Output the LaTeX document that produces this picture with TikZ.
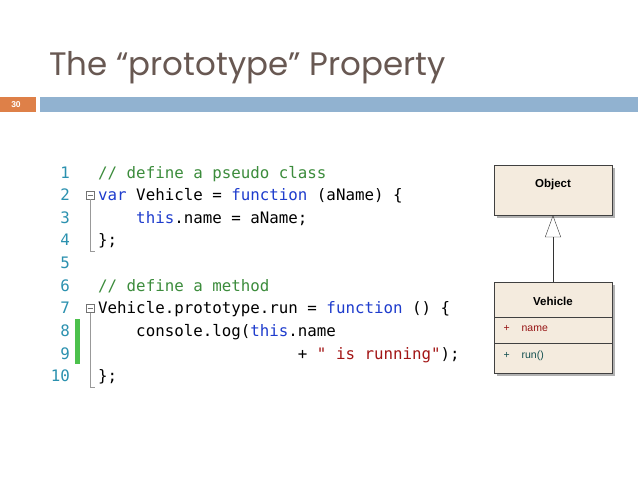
\documentclass[tikz,border=0pt]{standalone}
\usepackage{fontspec}
\setmainfont{Liberation Sans}
\newfontfamily\titlefont{Poppins}
\newfontfamily\codefont{DejaVu Sans Mono}
\usetikzlibrary{positioning,arrows.meta,shadows}
\definecolor{titlegray}{RGB}{104,88,82}
\definecolor{barblue}{RGB}{145,178,208}
\definecolor{pageorange}{RGB}{222,128,72}
\definecolor{cmtgreen}{RGB}{60,140,60}
\definecolor{kwblue}{RGB}{30,60,205}
\definecolor{strred}{RGB}{163,21,21}
\definecolor{numteal}{RGB}{43,145,175}
\definecolor{umlfill}{RGB}{244,235,222}
\definecolor{umlred}{RGB}{150,20,20}
\definecolor{umlteal}{RGB}{20,80,80}
\newcommand\cmt[1]{\textcolor{cmtgreen}{#1}}
\newcommand\kw[1]{\textcolor{kwblue}{#1}}
\newcommand\str[1]{\textcolor{strred}{#1}}
\newcommand\indentby[1]{\hspace*{\dimexpr#1\fontcharwd\font`x\relax}}
\tikzset{
  codeline/.style={anchor=base west,inner sep=0pt,font=\codefont\fontsize{15.8}{18}\selectfont},
  lineno/.style={anchor=base east,inner sep=0pt,text=numteal,font=\codefont\fontsize{15.8}{18}\selectfont},
  umlbox/.style={draw=black!75,fill=umlfill,minimum width=118pt},
  umlshadow/.style={fill=black!30},
  foldbox/.style={draw=black!55,line width=0.6pt,minimum size=8pt,inner sep=0pt},
  foldline/.style={draw=black!40,line width=0.6pt}
}
\begin{document}
\begin{tikzpicture}[x=1pt,y=-1pt]
\useasboundingbox[fill=white] (0,0) rectangle (638,493);

% header
\node[anchor=base west,inner sep=0pt,text=titlegray,font=\titlefont\fontsize{32.5}{36}\selectfont] (title) at (49,75) {The “prototype” Property};
\fill[pageorange] (0,97) rectangle (36,112);
\node[text=white,font=\bfseries\fontsize{8.5}{9}\selectfont] (pageno) at (16,104.5) {30};
\fill[barblue] (40,97) rectangle (638,112);

% code listing
\foreach \i in {1,...,10}
  \node[lineno] (n\i) at (70,{178+22.65*(\i-1)}) {\i};
\node[codeline] (l1) at (98,178) {\cmt{// define a pseudo class}};
\node[codeline] (l2) at (98,200.65) {\kw{var} Vehicle = \kw{function} (aName) \{};
\node[codeline] (l3) at (98,223.3) {\indentby{4}\kw{this}.name = aName;};
\node[codeline] (l4) at (98,245.95) {\};};
\node[codeline] (l6) at (98,291.25) {\cmt{// define a method}};
\node[codeline] (l7) at (98,313.9) {Vehicle.prototype.run = \kw{function} () \{};
\node[codeline] (l8) at (98,336.55) {\indentby{4}console.log(\kw{this}.name};
\node[codeline] (l9) at (98,359.2) {\indentby{21}+ \str{" is running"});};
\node[codeline] (l10) at (98,381.85) {\};};

% fold markers
\node[foldbox] (f2) at (90,195) {};
\node[foldbox] (f7) at (90,308.3) {};
\draw[foldline] (f2.south) -- (90,251) -- (95,251);
\draw[foldline] (f7.south) -- (90,387) -- (95,387);
\draw[black!55,line width=0.6pt] ([xshift=-2.5pt]f2.center) -- ([xshift=2.5pt]f2.center);
\draw[black!55,line width=0.6pt] ([xshift=-2.5pt]f7.center) -- ([xshift=2.5pt]f7.center);
\fill[green!65!black!70] (75,319) rectangle (80,364);

% class diagram
\fill[umlshadow] (497,168) rectangle (615,218);
\fill[umlshadow] (497,285) rectangle (615,376);
\node[umlbox,minimum height=50pt] (object) at (553,190) {};
\node[font=\bfseries\fontsize{11.5}{13}\selectfont] (oname) at (553,185) {Object};
\node[umlbox,minimum height=91pt] (vehicle) at (553,327.5) {};
\draw[black!75] (494,317) -- (612,317);
\draw[black!75] (494,343) -- (612,343);
\node[font=\bfseries\fontsize{11.5}{13}\selectfont] (vname) at (553,301) {Vehicle};
\node[anchor=west,text=umlred,font=\fontsize{10.5}{12}\selectfont] (attr) at (500,329) {+\hspace{12pt}name};
\node[anchor=west,text=umlteal,font=\fontsize{10.5}{12}\selectfont] (meth) at (500,356) {+\hspace{12pt}run()};
\draw[black!80,-{Triangle[open,length=22pt,width=16pt]}] (vehicle.north) -- (object.south);
\end{tikzpicture}
\end{document}
